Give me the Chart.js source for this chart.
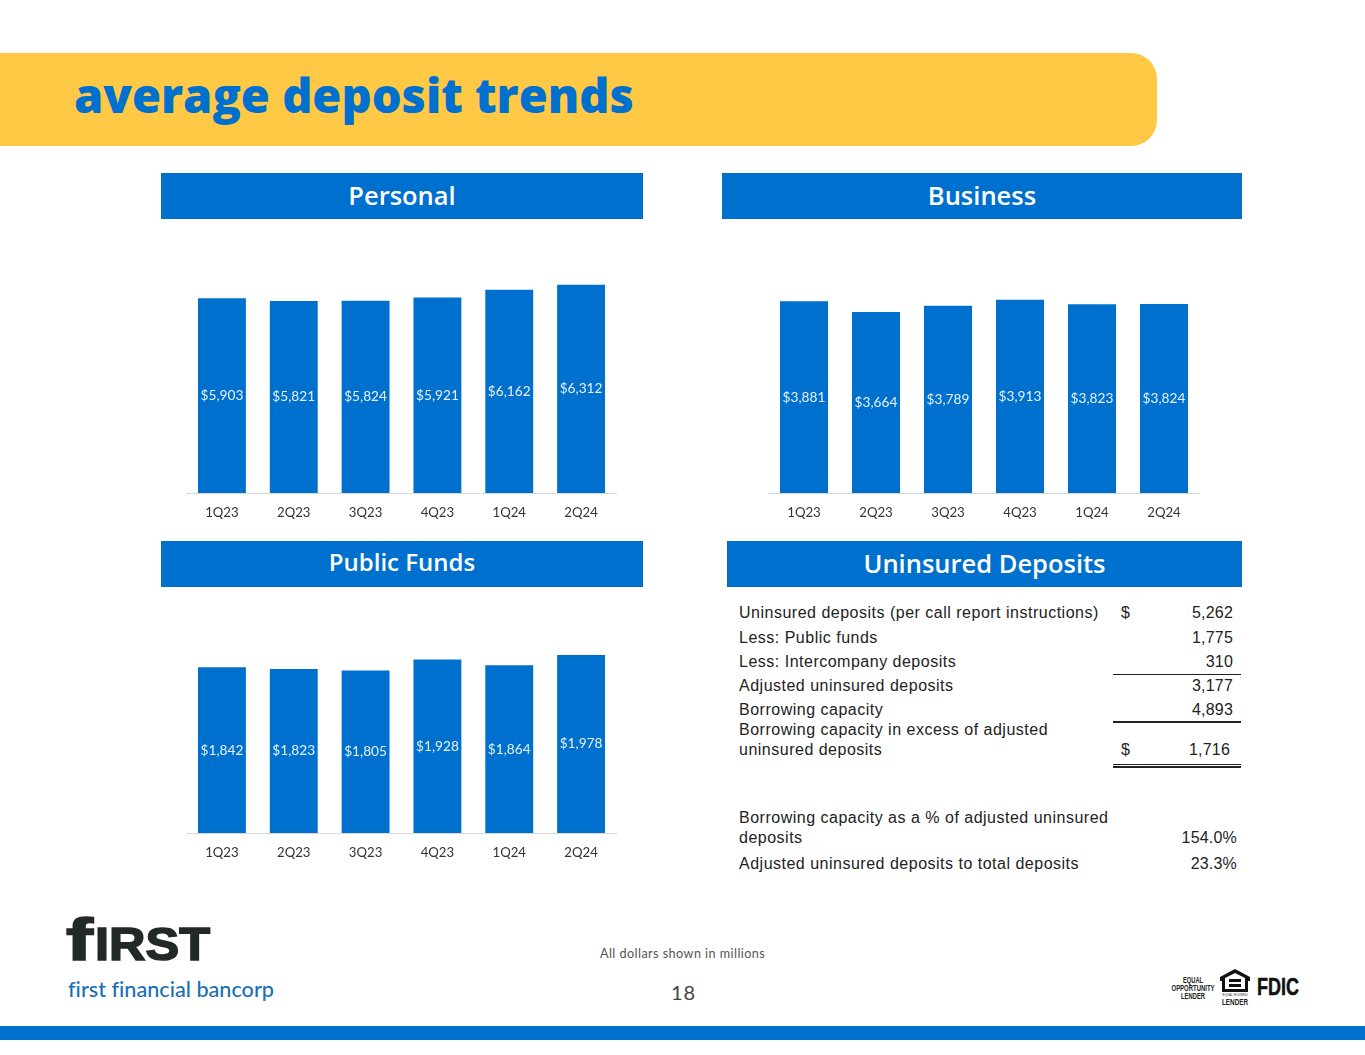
<!DOCTYPE html>
<html lang="en"><head><meta charset="utf-8"><title>average deposit trends</title>
<script src="https://cdn.jsdelivr.net/npm/chart.js@4"></script>
<style>
html,body{margin:0;padding:0;background:#fff;}
#page{position:relative;width:1365px;height:1055px;overflow:hidden;background:#fff;}
.abs{position:absolute;white-space:nowrap;}
#banner{left:0;top:53px;width:1157px;height:93px;background:#FFC845;border-radius:0 26px 26px 0;}
#title{left:74px;top:60px;font:800 47px/70px "Open Sans","Noto Sans",sans-serif;color:#0070CE;}
.hdr{background:#0070CE;color:#fff;height:46px;font:600 25.5px/44px "Open Sans","Noto Sans",sans-serif;text-align:center;}
canvas{position:absolute;display:block;}
.t{position:absolute;white-space:nowrap;font:16px/20px "Liberation Sans",Arial,sans-serif;color:#222;letter-spacing:.5px;}
.n{letter-spacing:.2px;}
.rule{position:absolute;left:1113px;width:128px;background:#222;height:1.5px;}
#bar{left:0;top:1026px;width:1365px;height:14px;background:#0070CE;}
#note{left:600px;top:946px;font:12.6px/16px Lato,"Open Sans",sans-serif;color:#555;letter-spacing:.45px;}
#pg{left:671px;top:979px;font:20px/26px Lato,"Noto Sans",sans-serif;color:#444;letter-spacing:.8px;}
</style></head><body>
<div id="page">
<div id="banner" class="abs"></div>
<div id="title" class="abs">average deposit trends</div>
<div class="abs hdr" style="left:161px;top:173px;width:482px;">Personal</div>
<div class="abs hdr" style="left:722px;top:173px;width:520px;">Business</div>
<div class="abs hdr" style="left:161px;top:541px;width:482px;font-size:24px;line-height:41px;">Public Funds</div>
<div class="abs hdr" style="left:727px;top:541px;width:515px;">Uninsured Deposits</div>
<canvas id="c1" width="431" height="268" style="left:186px;top:262px"></canvas>
<canvas id="c2" width="432" height="284" style="left:768px;top:246px"></canvas>
<canvas id="c3" width="431" height="262" style="left:186px;top:608px"></canvas>
<div id="table"></div>
<div class="rule" style="top:673.5px"></div>
<div class="rule" style="top:721px"></div>
<div class="rule" style="top:763.5px"></div>
<div class="rule" style="top:766px"></div>
<svg class="abs" style="left:60px;top:910px" width="225" height="100" viewBox="0 0 225 100">
<g font-family="Liberation Sans" font-weight="700" fill="#222a25" stroke="#222a25" stroke-width="1.6">
<text x="6" y="50" font-size="60" textLength="27" lengthAdjust="spacingAndGlyphs">f</text>
<text x="35" y="50" font-size="47" textLength="115" lengthAdjust="spacingAndGlyphs">IRST</text>
</g>
<text x="8" y="87" style="font-variant-ligatures:none" font-family="Lato,Noto Sans" font-size="21" font-weight="500" fill="#1a6fb5" textLength="206" lengthAdjust="spacingAndGlyphs">first financial bancorp</text>
</svg>
<svg class="abs" style="left:1165px;top:965px" width="145" height="45" viewBox="0 0 145 45">
<g font-family="Liberation Sans" font-size="9" font-weight="700" fill="#222" text-anchor="middle">
<text x="28" y="18" textLength="20" lengthAdjust="spacingAndGlyphs">EQUAL</text>
<text x="28" y="26" textLength="43" lengthAdjust="spacingAndGlyphs">OPPORTUNITY</text>
<text x="28" y="34" textLength="24" lengthAdjust="spacingAndGlyphs">LENDER</text>
<text x="70" y="40" textLength="26" lengthAdjust="spacingAndGlyphs">LENDER</text>
</g>
<text x="70" y="31" font-family="Liberation Sans" font-size="3.6" fill="#222" text-anchor="middle" textLength="25" lengthAdjust="spacingAndGlyphs">EQUAL HOUSING</text>
<path d="M70 4 L85 12 V16 H83 V27 H57 V16 H55 V12 Z M70 8 L60 13 V24 H80 V13 Z M64 14 H76 V17 H64 Z M64 19 H76 V22 H64 Z" fill="#111" fill-rule="evenodd"/>
<text x="92" y="30" font-family="Liberation Sans" font-weight="700" font-size="24" fill="#111" stroke="#111" stroke-width=".5" textLength="42" lengthAdjust="spacingAndGlyphs">FDIC</text>
</svg>
<div id="note" class="abs">All dollars shown in millions</div>
<div id="pg" class="abs">18</div>
<div id="bar" class="abs"></div>
</div>
<script>
const categories = ["1Q23","2Q23","3Q23","4Q23","1Q24","2Q24"];
const personal = [5903,5821,5824,5921,6162,6312];
const business = [3881,3664,3789,3913,3823,3824];
const publicFunds = [1842,1823,1805,1928,1864,1978];
const axisMaxPersonal = 7000, axisMaxBusiness = 5000, axisMaxPublic = 2500;

const tableRows = [
 ["Uninsured deposits (per call report instructions)","$","5,262",613],
 ["Less: Public funds","","1,775",637.5],
 ["Less: Intercompany deposits","","310",661.5],
 ["Adjusted uninsured deposits","","3,177",685.5],
 ["Borrowing capacity","","4,893",709.5],
 ["Borrowing capacity in excess of adjusted","","",729.5],
 ["uninsured deposits","$","1,716",750],
 ["Borrowing capacity as a % of adjusted uninsured","","",817.5],
 ["deposits","","154.0%",838],
 ["Adjusted uninsured deposits to total deposits","","23.3%",863.5]
];
const tbl = document.getElementById("table");
function addT(txt, css, cls){const d=document.createElement("div");d.className="t"+(cls?" "+cls:"");d.textContent=txt;d.style.cssText=css;tbl.appendChild(d);}
tableRows.forEach(r=>{
  const top=r[3]-10;
  addT(r[0],`left:739px;top:${top}px`);
  if(r[1]) addT(r[1],`left:1121px;top:${top}px`);
  if(r[2]){
    let right = 1365-1233;
    if(r[2]==="1,716") right = 1365-1230;
    if(r[2].endsWith("%")) right = 1365-1237;
    addT(r[2],`right:${right}px;top:${top}px`,"n");
  }
});

const barLabels = {
  id:"barLabels",
  afterDatasetsDraw(chart){
    const ctx=chart.ctx, meta=chart.getDatasetMeta(0), values=chart.data.datasets[0].data;
    ctx.save();
    ctx.font='13.7px Lato, "Open Sans", sans-serif';
    ctx.fillStyle="#e8f2fb";
    ctx.textAlign="center";ctx.textBaseline="middle";
    meta.data.forEach((bar,i)=>{
      const p=bar.getCenterPoint();
      ctx.fillText("$"+values[i].toLocaleString("en-US"),p.x,p.y);
    });
    ctx.restore();
  }
};
function makeChart(id,values,max){
  new Chart(document.getElementById(id),{
    type:"bar",
    data:{labels:categories,datasets:[{data:values,backgroundColor:"#0070CE",categoryPercentage:1,barPercentage:0.667}]},
    options:{
      responsive:false,animation:false,
      layout:{padding:0},
      plugins:{legend:{display:false},tooltip:{enabled:false},title:{display:false}},
      scales:{
        y:{display:false,min:0,max:max},
        x:{
          afterFit(s){s.height=37;},
          grid:{display:false,drawTicks:false},
          border:{display:true,color:"#d9d9d9",width:1},
          ticks:{color:"#333",font:{family:'Lato, "Open Sans", sans-serif',size:13.2},padding:12,maxRotation:0,autoSkip:false}
        }
      }
    },
    plugins:[barLabels]
  });
}
makeChart("c1",personal,axisMaxPersonal);
makeChart("c2",business,axisMaxBusiness);
makeChart("c3",publicFunds,axisMaxPublic);
</script>
</body></html>
